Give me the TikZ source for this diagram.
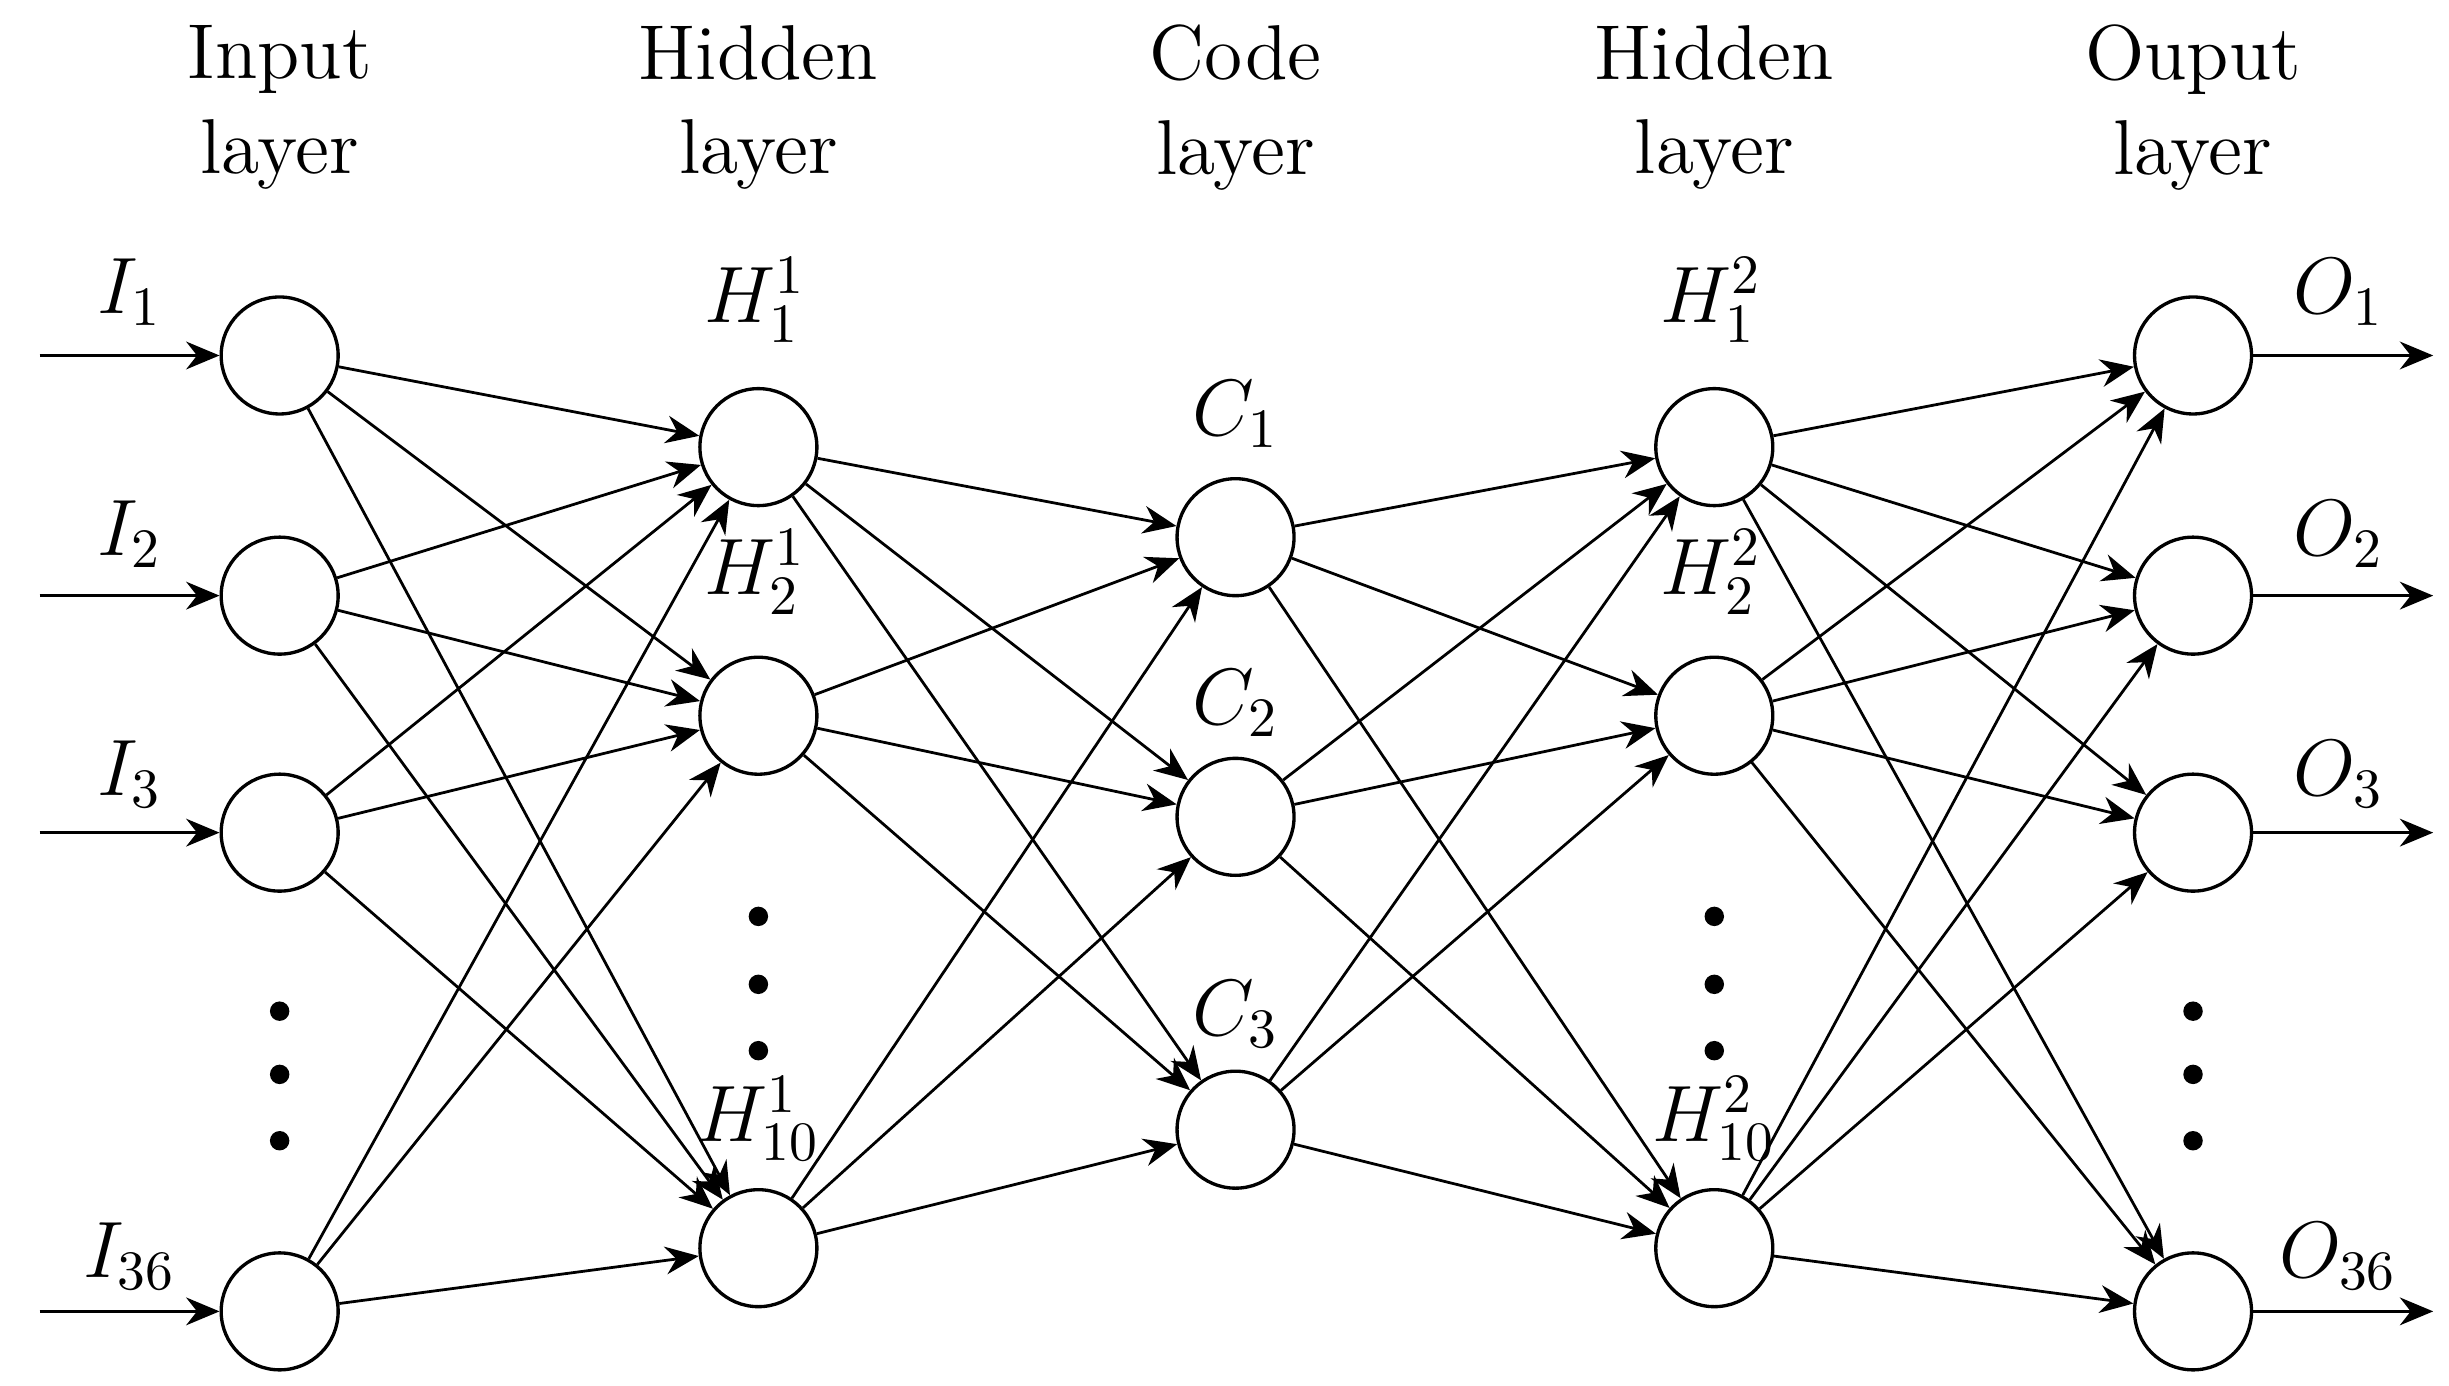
\documentclass[tikz,border=0pt]{standalone}
\usetikzlibrary{arrows.meta}
\begin{document}
\begin{tikzpicture}[x=0.01cm,y=-0.01cm,
  neuron/.style={circle,draw,line width=0.6pt,minimum size=0.74cm,inner sep=0pt},
  conn/.style={line width=0.5pt,-{Stealth[length=6pt,width=5pt]}},
  lbl/.style={font=\fontsize{14}{14}\selectfont},
  ttl/.style={font=\fontsize{14}{17}\selectfont,align=center},
  dot/.style={circle,fill,inner sep=0pt,minimum size=3.5pt}]
\useasboundingbox (0,0) rectangle (1550,877);
\foreach \n/\y in {1/225,2/377,3/527,4/830}{
  \node[neuron] (i\n) at (177,\y) {};
  \node[neuron] (o\n) at (1388,\y) {};
  \coordinate (ii\n) at (25,\y);
  \coordinate (oo\n) at (1540,\y);
  \draw[conn] (ii\n) -- (i\n);
  \draw[conn] (o\n) -- (oo\n);
}
\foreach \n/\y in {1/283,2/453,3/790}{
  \node[neuron] (a\n) at (480,\y) {};
  \node[neuron] (b\n) at (1085,\y) {};
}
\foreach \n/\y in {1/340,2/517,3/715}{
  \node[neuron] (c\n) at (782,\y) {};
}
\foreach \y in {640,680,722}{\node[dot] at (177,\y) {}; \node[dot] at (1388,\y) {};}
\foreach \y in {580,623,665}{\node[dot] at (480,\y) {}; \node[dot] at (1085,\y) {};}
\foreach \i in {1,...,4}{\foreach \j in {1,2,3}{\draw[conn] (i\i) -- (a\j);}}
\foreach \i in {1,2,3}{\foreach \j in {1,2,3}{\draw[conn] (a\i) -- (c\j); \draw[conn] (c\i) -- (b\j);}}
\foreach \i in {1,2,3}{\foreach \j in {1,...,4}{\draw[conn] (b\i) -- (o\j);}}
\node[lbl] (l1) at (82,185) {$I_1$};
\node[lbl] (l2) at (82,338) {$I_2$};
\node[lbl] (l3) at (82,490) {$I_3$};
\node[lbl] (l4) at (82,795) {$I_{36}$};
\node[lbl] (m1) at (1480,185) {$O_1$};
\node[lbl] (m2) at (1480,338) {$O_2$};
\node[lbl] (m3) at (1480,490) {$O_3$};
\node[lbl] (m4) at (1480,795) {$O_{36}$};
\node[lbl] (h1) at (478,190) {$H^1_1$};
\node[lbl] (h2) at (478,362) {$H^1_2$};
\node[lbl] (h3) at (480,708) {$H^1_{10}$};
\node[lbl] (g1) at (1083,190) {$H^2_1$};
\node[lbl] (g2) at (1083,362) {$H^2_2$};
\node[lbl] (g3) at (1085,708) {$H^2_{10}$};
\node[lbl] (k1) at (782,262) {$C_1$};
\node[lbl] (k2) at (782,445) {$C_2$};
\node[lbl] (k3) at (782,642) {$C_3$};
\node[ttl] (t1) at (177,68) {Input\\layer};
\node[ttl] (t2) at (480,68) {Hidden\\layer};
\node[ttl] (t3) at (782,68) {Code\\layer};
\node[ttl] (t4) at (1085,68) {Hidden\\layer};
\node[ttl] (t5) at (1388,68) {Ouput\\layer};
\end{tikzpicture}
\end{document}
